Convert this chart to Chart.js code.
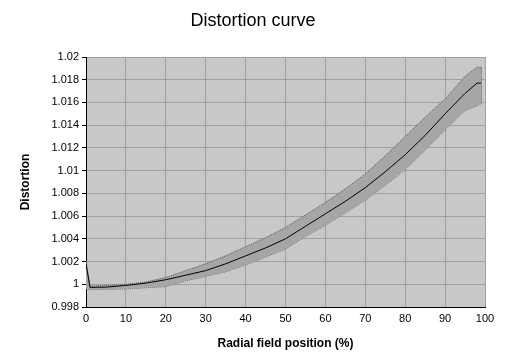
<!DOCTYPE html>
<html>
<head>
<meta charset="utf-8">
<script src="https://cdn.jsdelivr.net/npm/chart.js@4"></script>
<style>
  html, body { margin: 0; padding: 0; background: #fff; }
  #wrap { width: 517px; height: 362px; }
</style>
</head>
<body>
<div id="wrap"><canvas id="myChart" width="517" height="362"></canvas></div>
<script>
// radial field position (%) where values were read
const positions = [0, 1, 5, 10, 15, 20, 25, 30, 35, 40, 45, 50, 55, 60, 65, 70, 75, 80, 85, 90, 95, 98, 99];
// mean distortion
const distortion = [1.0018, 0.99973, 0.99975, 0.9999, 1.0001, 1.0004, 1.0008, 1.0012, 1.0018, 1.0025, 1.0032, 1.0040, 1.0051, 1.0062, 1.0073, 1.0085, 1.0099, 1.0114, 1.0131, 1.0150, 1.0168, 1.0177, 1.0177];
// upper / lower bounds of the band
const upperBound = [1.0021, 0.99985, 0.9999, 1.0000, 1.0002, 1.0006, 1.0012, 1.0018, 1.0025, 1.0033, 1.0041, 1.0050, 1.0061, 1.0072, 1.0084, 1.0097, 1.0113, 1.0130, 1.0147, 1.0163, 1.0183, 1.0191, 1.0191];
const lowerBound = [0.9996, 0.99953, 0.99955, 0.9996, 0.9997, 0.9998, 1.0003, 1.0007, 1.0011, 1.0017, 1.0024, 1.0031, 1.0042, 1.0052, 1.0063, 1.0074, 1.0087, 1.0101, 1.0118, 1.0136, 1.0153, 1.0157, 1.0159];

const xTicks = [0, 10, 20, 30, 40, 50, 60, 70, 80, 90, 100];
const yTicks = [0.998, 1, 1.002, 1.004, 1.006, 1.008, 1.01, 1.012, 1.014, 1.016, 1.018, 1.02];

const toPoints = (vals) => vals.map((v, i) => ({ x: positions[i], y: v }));
const last = positions.length - 1;

// gray plot area like the old spreadsheet charts
const plotBackground = {
  id: 'plotBackground',
  beforeDraw(chart) {
    const { ctx, chartArea } = chart;
    ctx.save();
    ctx.fillStyle = '#c8c8c8';
    ctx.fillRect(chartArea.left, chartArea.top, chartArea.right - chartArea.left, chartArea.bottom - chartArea.top);
    ctx.restore();
  }
};

const edge = { borderColor: '#555', borderWidth: 1, borderDash: [1, 1], pointRadius: 0, fill: false, tension: 0 };

new Chart(document.getElementById('myChart'), {
  type: 'line',
  data: {
    datasets: [
      {
        label: 'Distortion',
        data: toPoints(distortion),
        borderColor: '#000',
        borderWidth: 1,
        pointRadius: 0,
        fill: false,
        tension: 0
      },
      Object.assign({}, edge, { label: 'Upper', data: toPoints(upperBound), fill: '+1', backgroundColor: '#a6a6a6' }),
      Object.assign({}, edge, { label: 'Lower', data: toPoints(lowerBound) }),
      // closing edges of the band at both ends
      Object.assign({}, edge, { label: 'Start', data: [{ x: positions[0], y: lowerBound[0] }, { x: positions[0], y: upperBound[0] }], borderColor: '#888', borderDash: [] }),
      Object.assign({}, edge, { label: 'End', data: [{ x: positions[last], y: lowerBound[last] }, { x: positions[last], y: upperBound[last] }], borderColor: '#555', borderDash: [] })
    ]
  },
  options: {
    responsive: false,
    animation: false,
    layout: { padding: { top: 0, right: 11, bottom: 0, left: 0 } },
    plugins: {
      legend: { display: false },
      tooltip: { enabled: false },
      title: {
        display: true,
        text: 'Distortion curve',
        color: '#000',
        font: { family: 'Liberation Sans', size: 18, weight: 'normal', lineHeight: 1.2 },
        padding: { top: 10, bottom: 25.4 }
      }
    },
    scales: {
      x: {
        type: 'linear',
        min: 0,
        max: 100,
        afterBuildTicks: (scale) => { scale.ticks = xTicks.map(v => ({ value: v })); },
        afterFit: (scale) => { scale.height = 55; },
        ticks: { color: '#000', font: { family: 'Liberation Sans', size: 11 }, padding: 5, maxRotation: 0 },
        grid: { color: '#a0a0a0', tickLength: 4, tickColor: '#000', drawTicks: false },
        border: { color: '#000', width: 1 },
        title: {
          display: true,
          text: 'Radial field position (%)',
          color: '#000',
          font: { family: 'Liberation Sans', size: 12, weight: 'bold' },
          padding: { top: 8, bottom: 11 }
        }
      },
      y: {
        min: 0.998,
        max: 1.02,
        afterBuildTicks: (scale) => { scale.ticks = yTicks.map(v => ({ value: v })); },
        afterFit: (scale) => { scale.width = 86; },
        ticks: {
          color: '#000',
          font: { family: 'Liberation Sans', size: 11 },
          padding: 3,
          callback: (v) => String(+v.toFixed(3))
        },
        grid: { color: '#a0a0a0', tickLength: 4, tickColor: '#000' },
        border: { color: '#000', width: 1 },
        title: {
          display: true,
          text: 'Distortion',
          color: '#000',
          font: { family: 'Liberation Sans', size: 12, weight: 'bold' },
          padding: { top: 18, bottom: 0 }
        }
      },
      // empty right-hand box so the plot ends where the reference does
      spacer: {
        position: 'right',
        display: true,
        ticks: { display: false },
        grid: { display: false, drawTicks: false },
        border: { display: false },
        afterFit: (scale) => { scale.width = 21; }
      }
    }
  },
  plugins: [plotBackground]
});
</script>
</body>
</html>
